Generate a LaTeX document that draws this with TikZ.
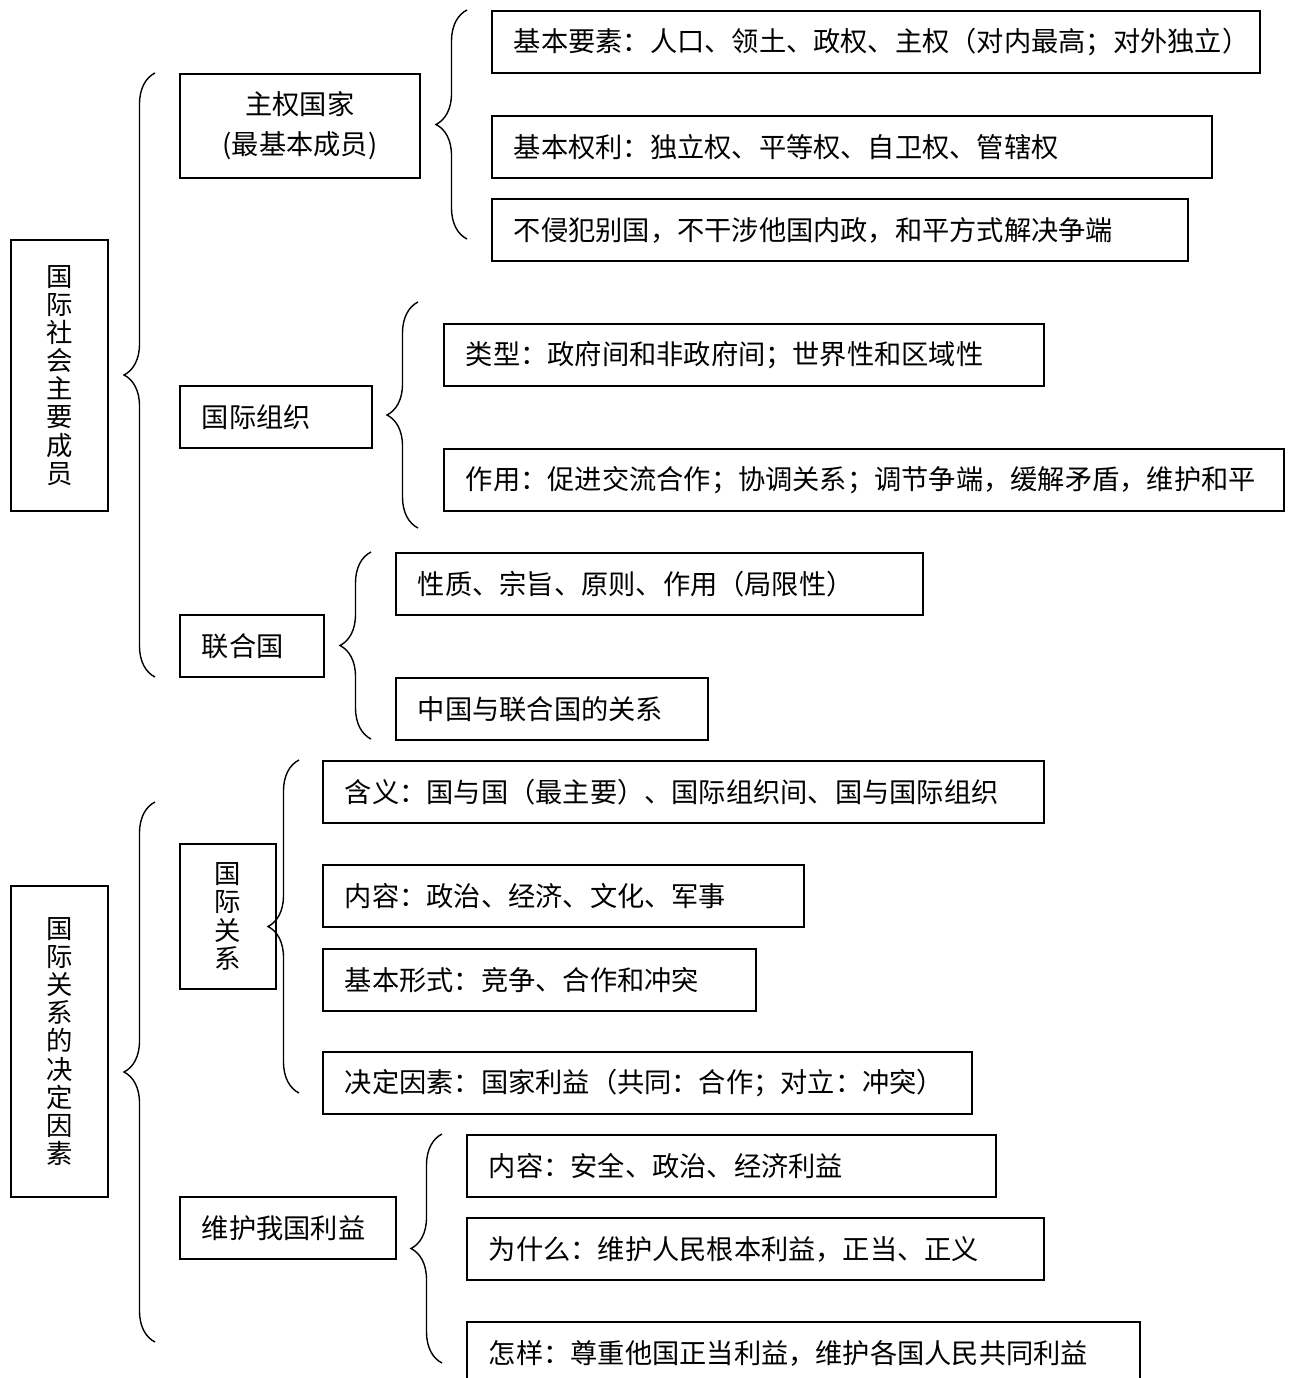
\documentclass[tikz,border=0pt]{standalone}
\usepackage{fontspec}
\setmainfont{Noto Sans CJK SC}
\usepackage{tikz}
\usetikzlibrary{decorations.pathreplacing}
\tikzset{
  mybox/.style={draw, line width=1.1pt, rectangle, anchor=north west, inner xsep=0.44cm, minimum height=1.24cm, align=left, font=\fontsize{15.5pt}{18pt}\selectfont},
  myvbox/.style={draw, line width=1.1pt, rectangle, anchor=north west, inner sep=0pt, align=center, font=\fontsize{15pt}{16pt}\selectfont},
  mybrace/.style={decorate, decoration={brace, amplitude=0.62cm}, line width=0.8pt},
}

\begin{document}
\begin{tikzpicture}[x=0.02cm, y=-0.02cm]%
\useasboundingbox (0,0) rectangle (1291,1378);%
% top part
\node[myvbox, minimum width=1.94cm, minimum height=5.42cm] (shehui) at (10,239) {国\\际\\社\\会\\主\\要\\成\\员};%
\node[mybox, align=center, minimum width=4.8cm, minimum height=2.08cm, font=\fontsize{15.5pt}{22.7pt}\selectfont] (guojia) at (179,73) {主权国家\\(最基本成员)};%
\node[mybox, text width=2.96cm] (zuzhi) at (179,385) {国际组织};%
\node[mybox, text width=2.00cm] (lhg) at (179,614) {联合国};%
\node[mybox, text width=14.48cm] (yaosu) at (491,10) {基本要素：人口、领土、政权、主权（对内最高；对外独立）};%
\node[mybox, text width=13.52cm] (quanli) at (491,115) {基本权利：独立权、平等权、自卫权、管辖权};%
\node[mybox, text width=13.04cm] (yiwu) at (491,198) {不侵犯别国，不干涉他国内政，和平方式解决争端};%
\node[mybox, text width=11.12cm] (leixing) at (443,323) {类型：政府间和非政府间；世界性和区域性};%
\node[mybox, text width=15.92cm] (zuoyong) at (443,448) {作用：促进交流合作；协调关系；调节争端，缓解矛盾，维护和平};%
\node[mybox, text width=9.66cm] (xingzhi) at (395,552) {性质、宗旨、原则、作用（局限性）};%
\node[mybox, text width=5.36cm] (zhongguo) at (395,677) {中国与联合国的关系};%
% bottom part
\node[myvbox, minimum width=1.94cm, minimum height=6.22cm] (yinsu) at (10,885) {国\\际\\关\\系\\的\\决\\定\\因\\素};%
\node[myvbox, minimum width=1.92cm, minimum height=2.9cm] (guanxi) at (179,843) {国\\际\\关\\系};%
\node[mybox, text width=3.44cm] (liyi) at (179,1196) {维护我国利益};%
\node[mybox, text width=13.54cm] (hanyi) at (322,760) {含义：国与国（最主要）、国际组织间、国与国际组织};%
\node[mybox, text width=8.74cm] (neirong) at (322,864) {内容：政治、经济、文化、军事};%
\node[mybox, text width=7.78cm] (xingshi) at (322,948) {基本形式：竞争、合作和冲突};%
\node[mybox, text width=12.10cm] (jueding) at (322,1051) {决定因素：国家利益（共同：合作；对立：冲突）};%
\node[mybox, text width=9.70cm] (lyneirong) at (466,1134) {内容：安全、政治、经济利益};%
\node[mybox, text width=10.66cm] (weishenme) at (466,1217) {为什么：维护人民根本利益，正当、正义};%
\node[mybox, text width=12.58cm] (zenyang) at (466,1321) {怎样：尊重他国正当利益，维护各国人民共同利益};%
% braces
\coordinate (b1t) at (155,73); \coordinate (b1b) at (155,677);%
\coordinate (b2t) at (467,10); \coordinate (b2b) at (467,239);%
\coordinate (b3t) at (418,302); \coordinate (b3b) at (418,528);%
\coordinate (b4t) at (371,552); \coordinate (b4b) at (371,739);%
\coordinate (b5t) at (155,802); \coordinate (b5b) at (155,1342);%
\coordinate (b6t) at (299,760); \coordinate (b6b) at (299,1093);%
\coordinate (b7t) at (442,1134); \coordinate (b7b) at (442,1363);%
\draw[mybrace] (b1b) -- (b1t);%
\draw[mybrace] (b2b) -- (b2t);%
\draw[mybrace] (b3b) -- (b3t);%
\draw[mybrace] (b4b) -- (b4t);%
\draw[mybrace] (b5b) -- (b5t);%
\draw[mybrace] (b6b) -- (b6t);%
\draw[mybrace] (b7b) -- (b7t);%
\end{tikzpicture}
\end{document}
